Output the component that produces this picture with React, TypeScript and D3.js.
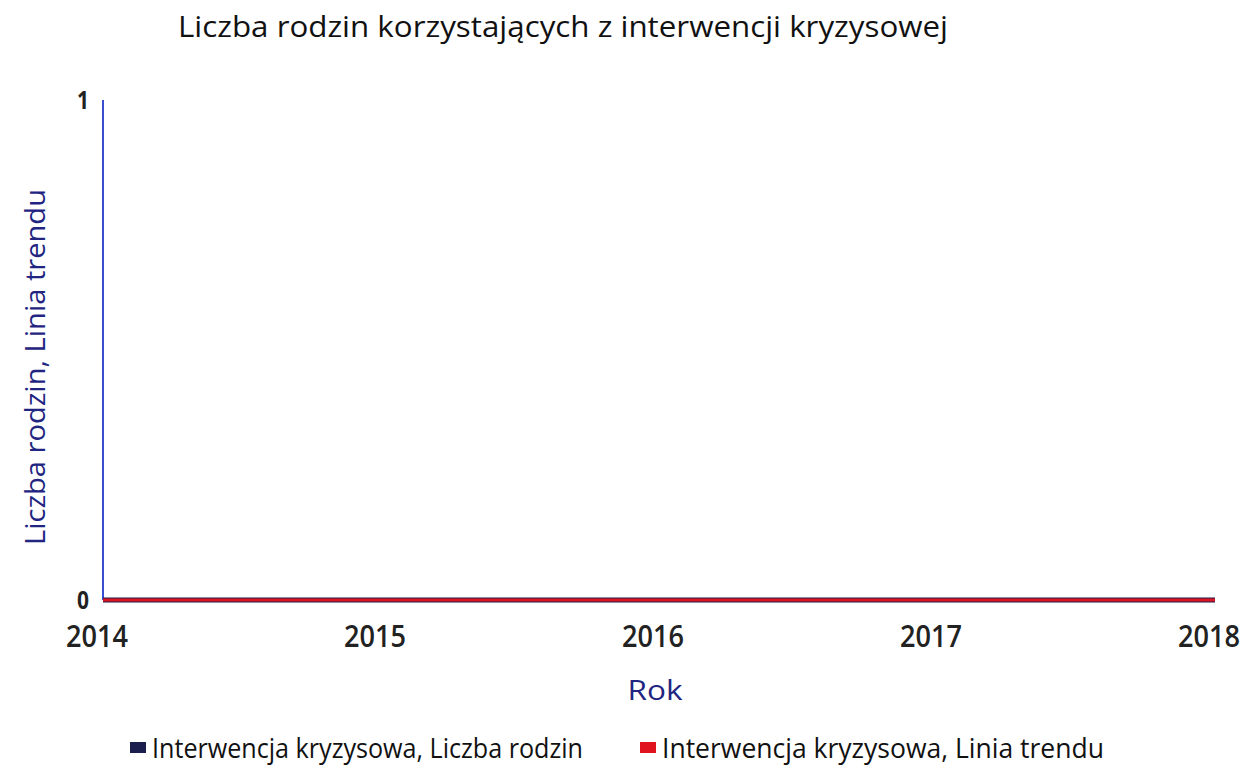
import React from "react";
import { scaleLinear, line } from "d3";

const years = [2014, 2015, 2016, 2017, 2018];
const familyCounts = [0, 0, 0, 0, 0];
const trendValues = [0, 0, 0, 0, 0];
const yTicks = [0, 1];

const title = "Liczba rodzin korzystających z interwencji kryzysowej";
const xTitle = "Rok";
const yTitle = "Liczba rodzin, Linia trendu";
const seriesNames = ["Interwencja kryzysowa, Liczba rodzin", "Interwencja kryzysowa, Linia trendu"];
const seriesColors = ["#1b1f4e", "#e0141e"];

const W = 1251;
const H = 776;
const margin = { top: 100, right: 36, bottom: 176, left: 103 };
const font = "'Open Sans', 'DejaVu Sans', sans-serif";

export default function App() {
  const x = scaleLinear()
    .domain([years[0], years[years.length - 1]])
    .range([margin.left, W - margin.right]);
  const y = scaleLinear().domain([0, 1]).range([H - margin.bottom, margin.top]);

  const path = line<number>()
    .x((_, i) => x(years[i]))
    .y((d) => y(d));

  // squeezed text, the source uses a narrow face
  const squeeze = (w: number) => ({ textLength: w, lengthAdjust: "spacingAndGlyphs" as const });

  return (
    <svg
      width={W}
      height={H}
      style={{ position: "absolute", left: 0, top: 0, background: "#fff" }}
      fontFamily={font}
    >
      {/* title */}
      <text x={178} y={37} fontSize={30} fontWeight={500} fill="#111" {...squeeze(770)}>
        {title}
      </text>

      {/* y axis line */}
      <line
        x1={x(years[0])}
        x2={x(years[0])}
        y1={y(1)}
        y2={y(0)}
        stroke="#3a4fd0"
        strokeWidth={2}
      />

      {/* y ticks */}
      {yTicks.map((t) => (
        <text
          key={t}
          x={x(years[0]) - 14}
          y={y(t) + 9}
          textAnchor="end"
          fontSize={25}
          fontWeight={700}
          fill="#222"
          {...squeeze(12)}
        >
          {t}
        </text>
      ))}

      {/* x ticks */}
      {years.map((yr) => (
        <text
          key={yr}
          x={x(yr) - 6}
          y={647}
          textAnchor="middle"
          fontSize={30}
          fontWeight={600}
          fill="#222"
          {...squeeze(62)}
        >
          {yr}
        </text>
      ))}

      {/* series */}
      <path d={path(familyCounts) ?? ""} fill="none" stroke={seriesColors[0]} strokeWidth={5} />
      <path d={path(trendValues) ?? ""} fill="none" stroke={seriesColors[1]} strokeWidth={3} />

      {/* axis titles */}
      <text x={655} y={700} textAnchor="middle" fontSize={28} fontWeight={500} fill="#1f2580" {...squeeze(55)}>
        {xTitle}
      </text>
      <text
        transform={`translate(45, 367) rotate(-90)`}
        textAnchor="middle"
        fontSize={28}
        fontWeight={500}
        fill="#1f2580"
        {...squeeze(356)}
      >
        {yTitle}
      </text>

      {/* legend */}
      {seriesNames.map((name, i) => {
        const lx = i === 0 ? 130 : 640;
        return (
          <g key={name}>
            <rect x={lx} y={742} width={16} height={11} fill={seriesColors[i]} />
            <text
              x={lx + 22}
              y={758}
              fontSize={28}
              fontWeight={500}
              fill="#111"
              {...squeeze(i === 0 ? 431 : 442)}
            >
              {name}
            </text>
          </g>
        );
      })}
    </svg>
  );
}
